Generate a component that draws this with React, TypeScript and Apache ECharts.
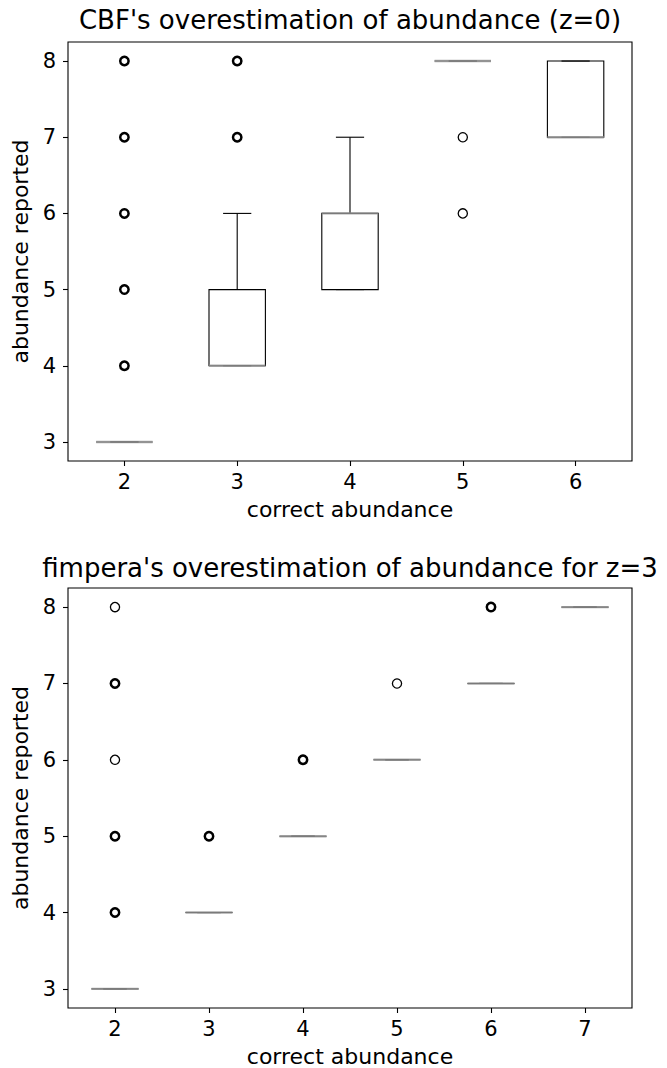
import { useEffect, useRef } from "react";
import * as echarts from "echarts";

// CBF (z=0)
const cbfCategories = ["2", "3", "4", "5", "6"];
// [low whisker, q1, median, q3, high whisker]
const cbfBoxes = [
  [3, 3, 3, 3, 3],
  [4, 4, 4, 5, 6],
  [5, 5, 6, 6, 7],
  [8, 8, 8, 8, 8],
  [7, 7, 7, 8, 8],
];
// [category index, value, overlapping points (1 = single)]
const cbfOutliers = [
  [0, 4, 2], [0, 5, 2], [0, 6, 2], [0, 7, 2], [0, 8, 2],
  [1, 7, 2], [1, 8, 2],
  [3, 7, 1], [3, 6, 1],
];

// fimpera (z=3)
const fimCategories = ["2", "3", "4", "5", "6", "7"];
const fimBoxes = [
  [3, 3, 3, 3, 3],
  [4, 4, 4, 4, 4],
  [5, 5, 5, 5, 5],
  [6, 6, 6, 6, 6],
  [7, 7, 7, 7, 7],
  [8, 8, 8, 8, 8],
];
const fimOutliers = [
  [0, 4, 2], [0, 5, 2], [0, 6, 1], [0, 7, 2], [0, 8, 1],
  [1, 5, 2],
  [2, 6, 2],
  [3, 7, 1],
  [4, 8, 2],
];

const yTicks = [3, 4, 5, 6, 7, 8];
const titles = [
  "CBF's overestimation of abundance (z=0)",
  "fimpera's overestimation of abundance for z=3",
];
const xName = "correct abundance";
const yName = "abundance reported";

const FONT = "DejaVu Sans";

function renderBox(params: any, api: any) {
  const idx = api.value(0);
  const lo = api.value(1);
  const q1 = api.value(2);
  const med = api.value(3);
  const q3 = api.value(4);
  const hi = api.value(5);
  const band = api.size([1, 0])[0];
  const bw = band * 0.5;
  const cw = band * 0.25;
  const pLo = api.coord([idx, lo]);
  const pQ1 = api.coord([idx, q1]);
  const pMed = api.coord([idx, med]);
  const pQ3 = api.coord([idx, q3]);
  const pHi = api.coord([idx, hi]);
  const cx = pMed[0];
  const black = { stroke: "#000", lineWidth: 1.1, fill: "none" };
  const children: any[] = [
    { type: "line", shape: { x1: cx, y1: pQ1[1], x2: cx, y2: pLo[1] }, style: black },
    { type: "line", shape: { x1: cx, y1: pQ3[1], x2: cx, y2: pHi[1] }, style: black },
    { type: "line", shape: { x1: cx - cw / 2, y1: pLo[1], x2: cx + cw / 2, y2: pLo[1] }, style: black },
    { type: "line", shape: { x1: cx - cw / 2, y1: pHi[1], x2: cx + cw / 2, y2: pHi[1] }, style: black },
    {
      type: "rect",
      shape: { x: cx - bw / 2, y: pQ3[1], width: bw, height: pQ1[1] - pQ3[1] },
      style: black,
    },
    {
      type: "line",
      shape: { x1: cx - bw / 2, y1: pMed[1], x2: cx + bw / 2, y2: pMed[1] },
      style: { stroke: "#999", lineWidth: 2.4, opacity: 0.8 },
    },
  ];
  return { type: "group", children };
}

function renderOutlier(params: any, api: any) {
  const p = api.coord([api.value(0), api.value(1)]);
  const multi = api.value(2) > 1;
  return {
    type: "circle",
    shape: { cx: p[0], cy: p[1], r: multi ? 4.2 : 4.6 },
    style: { fill: "#fff", stroke: "#000", lineWidth: multi ? 2.5 : 1.3 },
  };
}

function xAxisFor(gridIndex: number, cats: string[]) {
  return {
    type: "category",
    gridIndex,
    data: cats,
    boundaryGap: true,
    axisLine: { show: false },
    axisTick: { show: true, alignWithLabel: true, length: 5, lineStyle: { color: "#000", width: 1.1 } },
    axisLabel: { color: "#000", fontSize: 21, fontFamily: FONT, margin: 10 },
    splitLine: { show: false },
    name: xName,
    nameLocation: "middle",
    nameGap: 37,
    nameTextStyle: { color: "#000", fontSize: 22, fontFamily: FONT },
  };
}

function yAxisFor(gridIndex: number) {
  return {
    type: "value",
    gridIndex,
    min: 2.75,
    max: 8.25,
    axisLine: { show: false },
    axisTick: { show: true, length: 5, customValues: yTicks, lineStyle: { color: "#000", width: 1.1 } },
    axisLabel: { color: "#000", fontSize: 21, fontFamily: FONT, margin: 12, customValues: yTicks },
    splitLine: { show: false },
    name: yName,
    nameLocation: "middle",
    nameGap: 37,
    nameRotate: 90,
    nameTextStyle: { color: "#000", fontSize: 22, fontFamily: FONT },
  };
}

export default function App() {
  const ref = useRef<HTMLDivElement>(null);
  useEffect(() => {
    if (!ref.current) return;
    const chart = echarts.init(ref.current, undefined, { renderer: "svg" });
    const option: any = {
      animation: false,
      backgroundColor: "#fff",
      graphic: [
        {
          type: "text",
          x: 350,
          y: 20,
          style: { text: titles[0], fill: "#000", font: `26px '${FONT}'`, align: "center", verticalAlign: "middle" },
        },
        {
          type: "text",
          x: 350,
          y: 568,
          style: { text: titles[1], fill: "#000", font: `26px '${FONT}'`, align: "center", verticalAlign: "middle" },
        },
      ],
      grid: [
        { left: 68, top: 42, width: 564, height: 419, show: true, borderColor: "#000", borderWidth: 1.1, backgroundColor: "transparent" },
        { left: 68, top: 588, width: 564, height: 422, show: true, borderColor: "#000", borderWidth: 1.1, backgroundColor: "transparent" },
      ],
      xAxis: [xAxisFor(0, cbfCategories), xAxisFor(1, fimCategories)],
      yAxis: [yAxisFor(0), yAxisFor(1)],
      series: [
        {
          type: "custom",
          xAxisIndex: 0,
          yAxisIndex: 0,
          renderItem: renderBox,
          encode: { x: 0, y: [1, 2, 3, 4, 5] },
          data: cbfBoxes.map((b, i) => [i, ...b]),
          z: 2,
        },
        {
          type: "custom",
          xAxisIndex: 0,
          yAxisIndex: 0,
          renderItem: renderOutlier,
          encode: { x: 0, y: 1 },
          data: cbfOutliers,
          z: 3,
        },
        {
          type: "custom",
          xAxisIndex: 1,
          yAxisIndex: 1,
          renderItem: renderBox,
          encode: { x: 0, y: [1, 2, 3, 4, 5] },
          data: fimBoxes.map((b, i) => [i, ...b]),
          z: 2,
        },
        {
          type: "custom",
          xAxisIndex: 1,
          yAxisIndex: 1,
          renderItem: renderOutlier,
          encode: { x: 0, y: 1 },
          data: fimOutliers,
          z: 3,
        },
      ],
    };
    chart.setOption(option);
    return () => chart.dispose();
  }, []);
  return (
    <div
      ref={ref}
      style={{ position: "absolute", left: 0, top: 0, width: 667, height: 1068, background: "#fff" }}
    />
  );
}
